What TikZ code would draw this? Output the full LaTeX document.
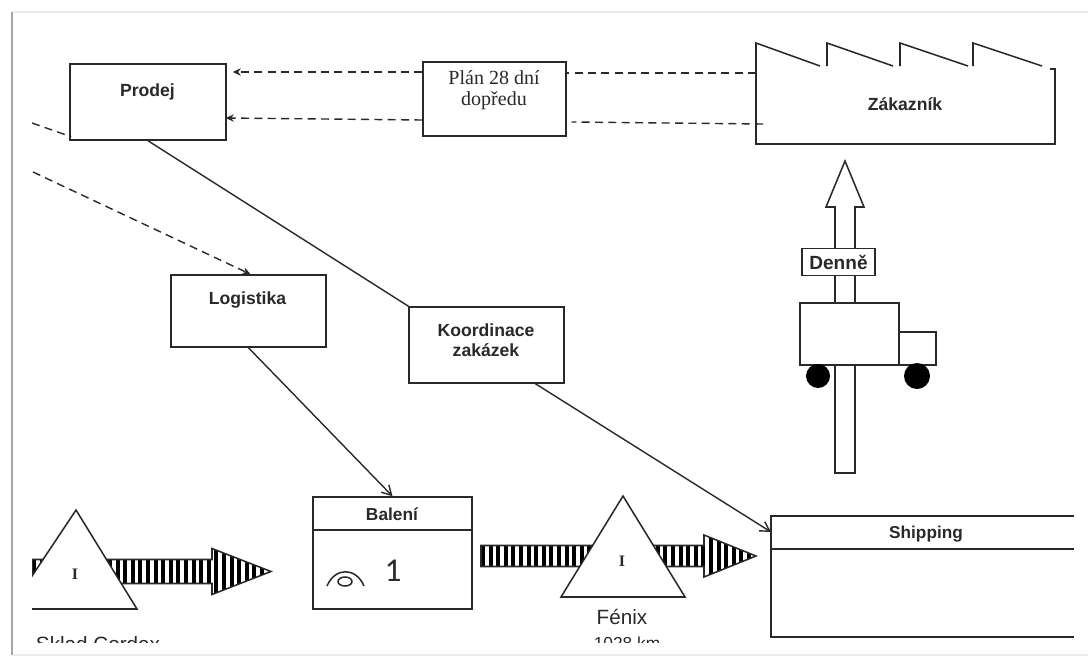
\documentclass[tikz,border=0pt]{standalone}
\usepackage{fontspec}
\setmainfont{Liberation Sans}
\newfontfamily\serifface{Liberation Serif}
\newfontfamily\carl{Carlito}
\usetikzlibrary{arrows.meta,calc}
\definecolor{ink}{gray}{0.16}
\tikzset{
  px/.style={x=0.75pt,y=-0.75pt},
  line/.style={draw=ink,line width=1.15pt},
  boxnode/.style={line,fill=white,inner sep=0pt},
  lab/.style={text=ink,font=\fontsize{13.2}{15.4}\selectfont\bfseries,align=center,inner sep=0pt},
  serlab/.style={text=ink,font=\serifface\fontsize{15}{16}\selectfont,align=center,inner sep=0pt},
  reglab/.style={text=ink,font=\fontsize{15.5}{18}\selectfont,inner sep=0pt},
  dashline/.style={draw=ink,line width=1.05pt,dash pattern=on 6pt off 4pt},
  dasharrow/.style={dashline,-{Stealth[length=6pt,width=5.5pt]}},
  solidarrow/.style={draw=ink,line width=1.05pt,-{Straight Barb[length=7pt,width=8pt]}},
  connector/.style={draw=ink,line width=1.05pt}
}
\newcommand{\stripedarrow}[7]{% x0, xneck, xtip, ycentre, half shaft, half head, first stripe x
  \begin{scope}
    \path[clip] (#1,#4-#5) -- (#2,#4-#5) -- (#2,#4-#6) -- (#3,#4) -- (#2,#4+#6) -- (#2,#4+#5) -- (#1,#4+#5) -- cycle;
    \fill[white] (#1,#4-#6) rectangle (#3,#4+#6);
    \foreach \sx in {#7,9.6,...,300}{
      \draw[black,line width=2.9pt] ({#1+\sx},#4-#6) -- ({#1+\sx},#4+#6);
    }
  \end{scope}
  \draw[line] (#1,#4-#5) -- (#2,#4-#5) -- (#2,#4-#6) -- (#3,#4) -- (#2,#4+#6) -- (#2,#4+#5) -- (#1,#4+#5) -- cycle;
}
\begin{document}
\begin{tikzpicture}[px]
\useasboundingbox (0,0) rectangle (1088,657);
\fill[white] (0,0) rectangle (1088,657);
% sheet edge
\draw[black!8,line width=1.2pt] (12,12) -- (1088,12);
\draw[black!8,line width=1.2pt] (12,655) -- (1088,655);
\draw[black!35,line width=2pt] (12,12) -- (12,655);

% top boxes
\node[boxnode,minimum width=117pt,minimum height=57pt] (prodej) at (148,102) {};
\node[lab] (prodejT) at (147.5,92) {Prodej};
\node[boxnode,minimum width=107pt,minimum height=55.5pt] (plan) at (494.5,99) {};
\node[serlab] (planT) at (494,90) {Plán 28 dní\\dopředu};
\node[boxnode,minimum width=116pt,minimum height=54pt] (logistika) at (248.5,311) {};
\node[lab] (logistikaT) at (247.5,300) {Logistika};
\node[boxnode,minimum width=116pt,minimum height=57pt] (koord) at (486.5,345) {};
\node[lab] (koordT) at (486,340) {Koordinace\\zakázek};

% factory
\draw[line] (1050,69) -- (1055,69) -- (1055,144) -- (756,144) -- (756,43) -- (820,66)
  (827,66) -- (827,43) -- (893,66)
  (900,66) -- (900,43) -- (968,66)
  (973,66) -- (973,43) -- (1042,66);
\coordinate (factoryA) at (756,73);
\coordinate (factoryB) at (763,124);
\node[lab] (zakaznik) at (905,104) {Zákazník};

% information flows
\draw[dashline] (factoryA) -- ($(plan.east)+(0,-26)$);
\draw[dashline] (factoryB) -- ($(plan.east)+(5,23)$);
\draw[dasharrow] ($(plan.west)+(0,-27)$) -- ($(prodej.east)+(6,-30)$);
\draw[dasharrow] ($(plan.west)+(0,21)$) -- ($(prodej.east)+(-1,16)$);
\coordinate (offA) at (32,123);
\coordinate (offB) at (33,172);
\draw[dashline] (offA) -- ($(prodej.south west)+(2,-4)$);
\draw[dasharrow] (offB) -- ($(logistika.north)+(2,0)$);

% delivery arrow and truck
\draw[line,fill=white] (835,473) -- (835,207) -- (826,207) -- (845,161) -- (864,207) -- (855,207) -- (855,473) -- cycle;
\node[boxnode,minimum width=54.5pt,minimum height=20pt,text=ink,font=\fontsize{14.3}{16}\selectfont\bfseries] (denne) at (838.5,262) {Denně};
\node[boxnode,minimum width=74pt,minimum height=46.5pt] (truck) at (849.5,334) {};
\node[boxnode,minimum width=27.5pt,minimum height=24.5pt] (cab) at (917.5,348.5) {};
\fill[black] (818,376) circle[radius=12];
\fill[black] (917,376) circle[radius=13];

% material flow
\begin{scope}
  \path[clip] (32,480) rectangle (1088,657);
  \stripedarrow{32}{212}{271}{571.5}{12}{23}{2}
  \filldraw[line,fill=white] (76,510) -- (137,609) -- (10,609) -- cycle;
\end{scope}
\node[text=ink,inner sep=0pt,font=\serifface\fontsize{12}{14}\selectfont\bfseries] (inv1) at (75,574) {I};

\node[boxnode,minimum width=119.5pt,minimum height=84pt] (baleni) at (392.5,553) {};
\draw[line] (313,530) -- (472,530);
\node[lab,font=\fontsize{13}{15}\selectfont\bfseries] (baleniT) at (392,514) {Balení};
\draw[line] (327,586) .. controls (335,567) and (356,567) .. (364,586);
\draw[line] (345,581.5) ellipse[x radius=7,y radius=4.5];
\node[text=ink,inner sep=0pt,font=\carl\fontsize{25}{28}\selectfont] (one) at (393,571) {1};

\stripedarrow{481}{704}{756}{556}{10.5}{21}{2}
\filldraw[line,fill=white] (623,496) -- (685,597) -- (561,597) -- cycle;
\node[text=ink,inner sep=0pt,font=\serifface\fontsize{12}{14}\selectfont\bfseries] (inv2) at (622,561) {I};
\node[reglab] (fenix) at (622,617) {Fénix};

% shipping
\draw[line] (1074,516) -- (771,516) -- (771,637) -- (1074,637);
\draw[line] (771,549) -- (1074,549);
\coordinate (shipping) at (771,532);
\node[lab,font=\fontsize{12.9}{15}\selectfont\bfseries] (shippingT) at (926,534) {Shipping};

% clipped captions
\begin{scope}
  \path[clip] (20,620) rectangle (700,642.5);
  \node[reglab,anchor=north] (sklad) at (98,636) {Sklad Cordex};
  \node[reglab,anchor=north,font=\fontsize{13}{15}\selectfont] (km) at (627,637) {1028 km};
\end{scope}

% coordination lines
\draw[connector] (prodej.south) -- (koord.north west);
\draw[solidarrow] (logistika.south) -- (baleni.north);
\draw[solidarrow] ($(koord.south)+(49,0)$) -- (shipping);
\end{tikzpicture}
\end{document}
